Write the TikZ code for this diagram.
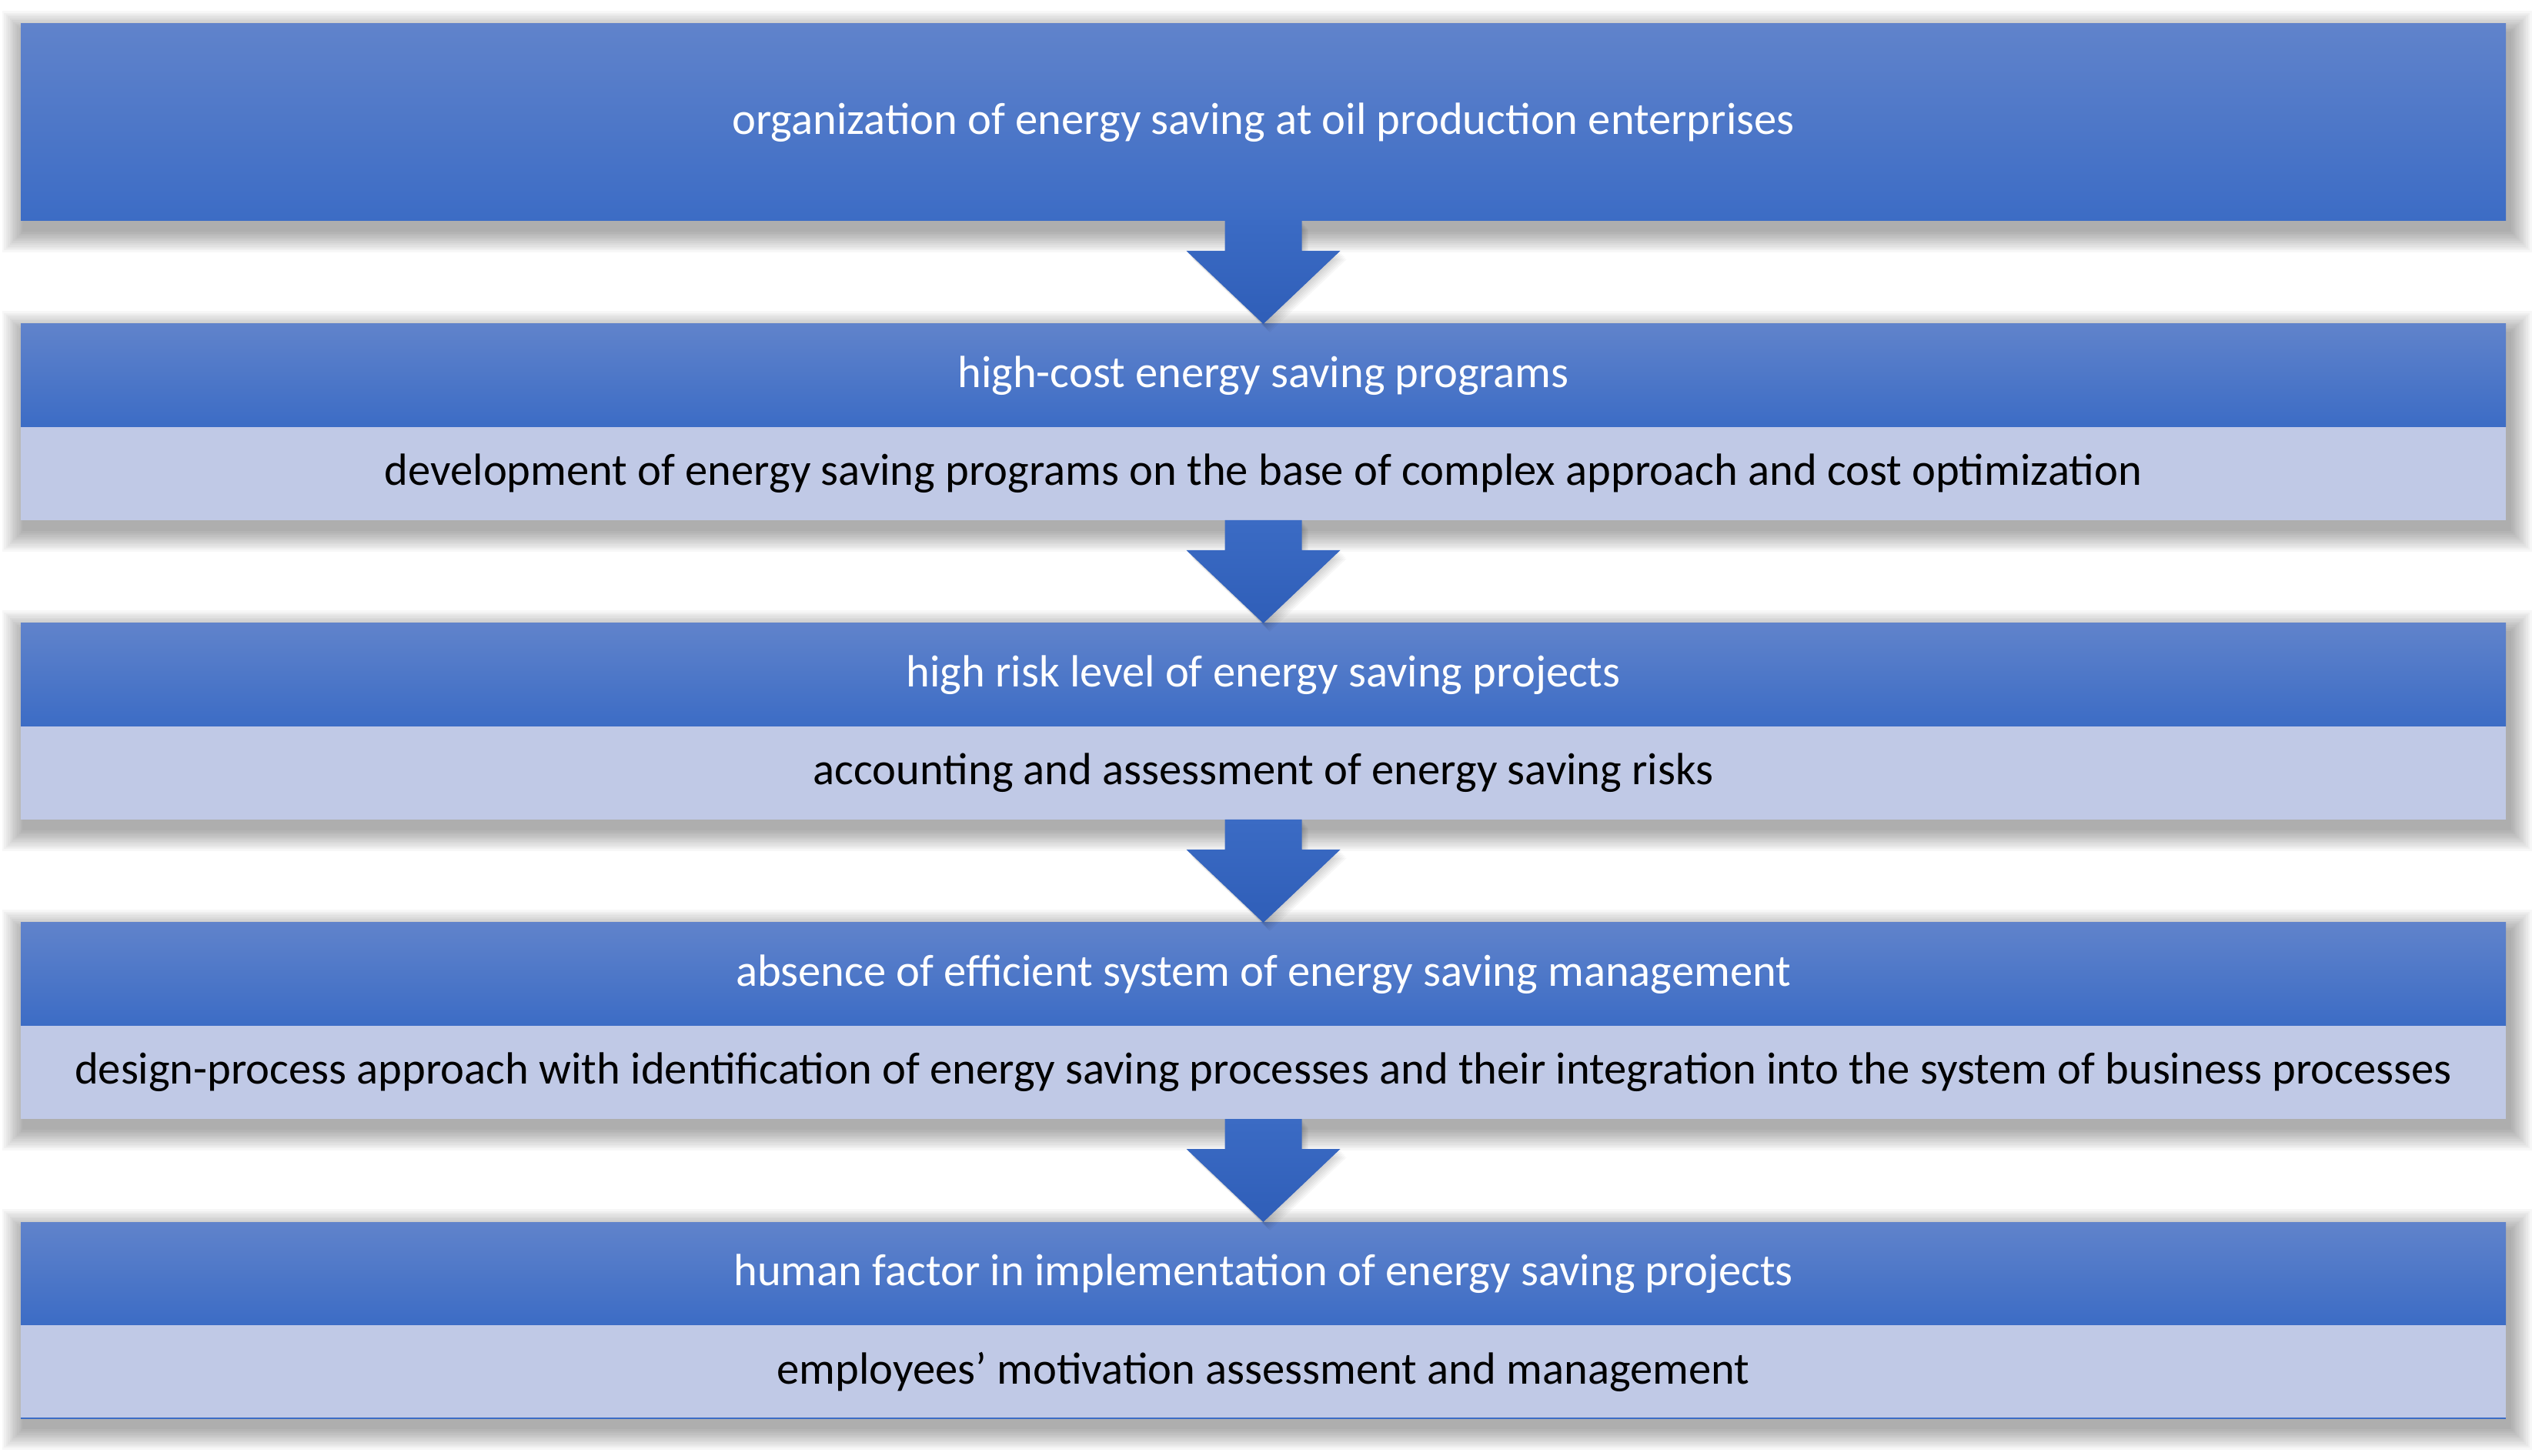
\documentclass[tikz,border=0pt]{standalone}
\usepackage{fontspec}
\setmainfont{Carlito}
\usetikzlibrary{positioning,backgrounds}

\definecolor{headtop}{HTML}{6083CB}
\definecolor{headbot}{HTML}{3C6CC5}
\definecolor{bodyfill}{HTML}{C0C9E6}
\definecolor{arrowtop}{HTML}{3B6BC4}
\definecolor{arrowbot}{HTML}{2F5EB8}

\tikzset{
  header/.style={top color=headtop, bottom color=headbot, text=white,
    minimum width=807.25pt, minimum height=33.5pt, inner sep=0pt, outer sep=0pt,
    font=\fontsize{14.65}{17}\selectfont},
  body/.style={fill=bodyfill, text=black,
    minimum width=807.25pt, minimum height=30.25pt, inner sep=0pt, outer sep=0pt,
    font=\fontsize{14.65}{17}\selectfont},
  shadowlayer/.style={fill=black, opacity=0.03},
  downarrow/.style={top color=arrowtop, bottom color=arrowbot},
}

% soft shadow: stacked rectangles, growing and fading
\newcommand{\softshadow}[2]{%
  \foreach \k in {1,...,12} {
    \fill[shadowlayer] ([shift={(1.2pt-\k*0.6pt,-3pt+\k*0.6pt)}]#1.north west)
      rectangle ([shift={(1.2pt+\k*0.6pt,-3pt-\k*0.6pt)}]#2.south east);
  }%
}

\begin{document}
\begin{tikzpicture}
    % page size of the reference
    \useasboundingbox (0,0) rectangle (822.5pt,-473pt);

    \node[header, minimum height=64pt] (h1) at (410.375pt,-39.75pt) {organization of energy saving at oil production enterprises};

    \node[header, below=33.5pt of h1] (h2) {high-cost energy saving programs};
    \node[body, below=0pt of h2] (b2) {development of energy saving programs on the base of complex approach and cost optimization};

    \node[header, below=33.5pt of b2] (h3) {high risk level of energy saving projects};
    \node[body, below=0pt of h3] (b3) {accounting and assessment of energy saving risks};

    \node[header, below=33.5pt of b3] (h4) {absence of efficient system of energy saving management};
    \node[body, below=0pt of h4] (b4) {design-process approach with identification of energy saving processes and their integration into the system of business processes};

    \node[header, below=33.5pt of b4] (h5) {human factor in implementation of energy saving projects};
    \node[body, below=0pt of h5] (b5) {employees’ motivation assessment and management};
    \draw[headbot, line width=0.6pt] (b5.south west) -- (b5.south east);

    % shadows behind the boxes
    \begin{scope}[on background layer]
      \softshadow{h1}{h1}
      \foreach \i in {2,...,5} {
        \softshadow{h\i}{b\i}
      }
    \end{scope}

    % block arrows between the boxes
    \foreach \from/\to in {h1/h2, b2/h3, b3/h4, b4/h5} {
      \foreach \k in {1,...,6} {
        \fill[shadowlayer] ([shift={(\k*0.35pt,-\k*0.45pt)}]\from.south) ++(-12.5pt,0) -- ++(0,-9.75pt) -- ++(-12.5pt,0)
          -- ([shift={(\k*0.35pt,-\k*0.45pt)}]\to.north) -- ++(25pt,23.75pt) -- ++(-12.5pt,0) -- ++(0,9.75pt) -- cycle;
      }
      \shade[downarrow] (\from.south) ++(-12.5pt,0) -- ++(0,-9.75pt) -- ++(-12.5pt,0)
        -- (\to.north) -- ++(25pt,23.75pt) -- ++(-12.5pt,0) -- ++(0,9.75pt) -- cycle;
    }
\end{tikzpicture}
\end{document}
